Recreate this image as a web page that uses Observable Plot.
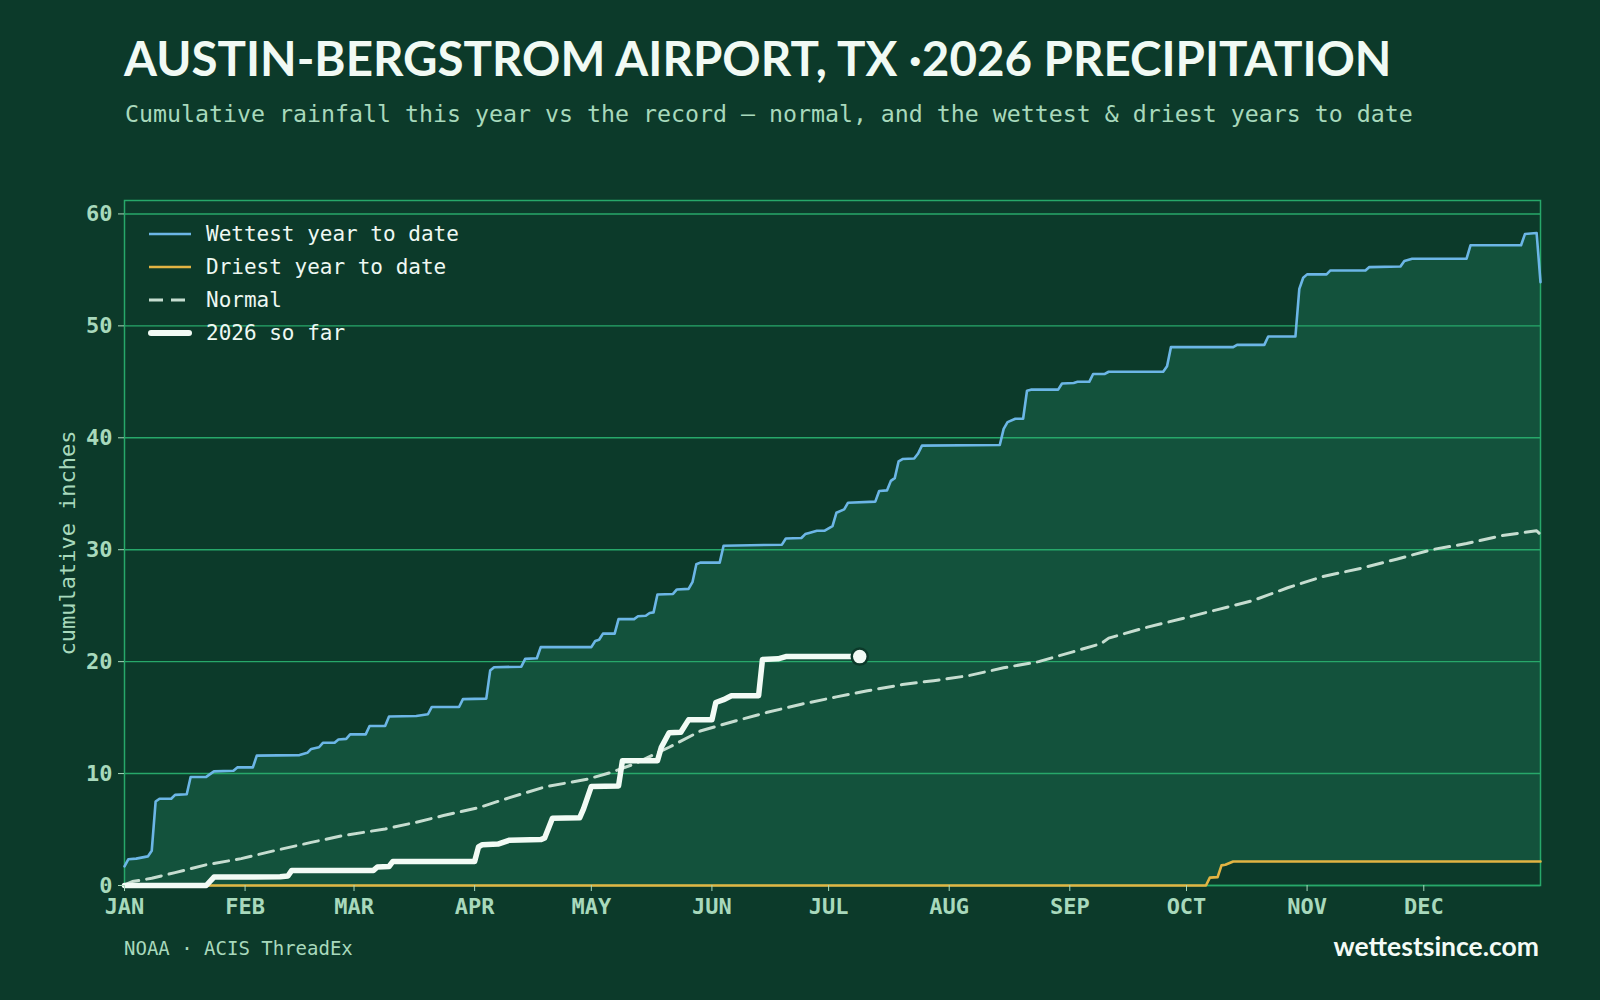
<!DOCTYPE html>
<html>
<head>
<meta charset="utf-8">
<script src="https://cdn.jsdelivr.net/npm/d3@7"></script>
<script src="https://cdn.jsdelivr.net/npm/@observablehq/plot@0.6"></script>
<style>
  html, body { margin: 0; padding: 0; background: #0c3a2a; }
  #wrap { position: relative; width: 1600px; height: 1000px; overflow: hidden; background: #0c3a2a; }
  #title { position: absolute; left: 124px; top: 34px; font: 700 47.5px Lato, "Open Sans", sans-serif; line-height: 47.5px; color: #f1faf4; white-space: nowrap; }
  #subtitle { position: absolute; left: 125px; top: 102px; font: 400 23.25px "DejaVu Sans Mono", monospace; line-height: 23.25px; color: #a8d9bc; white-space: nowrap; }
  #chart { position: absolute; left: 0; top: 0; }
  #legend { position: absolute; left: 148px; top: 217px; font: 400 21px "DejaVu Sans Mono", monospace; color: #eef8f2; }
  #legend .row { display: flex; align-items: center; height: 33px; }
  #legend svg { width: 44px; height: 14px; margin-right: 14px; }
  #source { position: absolute; left: 124px; top: 939px; font: 400 19px "DejaVu Sans Mono", monospace; line-height: 19px; color: #a8d9bc; white-space: nowrap; }
  #brand { position: absolute; right: 61px; top: 933px; font: 700 26.5px Lato, sans-serif; line-height: 26.5px; color: #f4fbf6; white-space: nowrap; }
</style>
</head>
<body>
<div id="wrap">
  <div id="title"></div>
  <div id="subtitle"></div>
  <div id="chart"></div>
  <div id="legend"></div>
  <div id="source"></div>
  <div id="brand"></div>
</div>
<script>
// ---------- text ----------
const titleText = "AUSTIN-BERGSTROM AIRPORT, TX ·2026 PRECIPITATION";
const subtitleText = "Cumulative rainfall this year vs the record — normal, and the wettest & driest years to date";
const sourceText = "NOAA · ACIS ThreadEx";
const brandText = "wettestsince.com";
const yLabel = "cumulative inches";
const monthLabels = ["JAN","FEB","MAR","APR","MAY","JUN","JUL","AUG","SEP","OCT","NOV","DEC"];
const yTicks = [0, 10, 20, 30, 40, 50, 60];
const legendLabels = ["Wettest year to date", "Driest year to date", "Normal", "2026 so far"];

// ---------- data (day of year index from Jan 1, cumulative inches) ----------
const wettestDays = [0,1,3,6,7,8,9,12,13,16,17,21,23,28,29,33,34,45,47,48,50,51,54,55,57,58,62,63,67,68,75,78,79,86,87,93,94,95,102,103,106,107,120,121,122,123,126,127,131,132,134,135,136,137,141,142,145,146,147,148,153,154,169,170,174,175,176,178,180,182,183,185,186,193,194,196,197,198,199,200,203,204,205,225,226,227,229,231,232,233,240,241,244,245,248,249,252,253,267,268,269,285,286,293,294,301,302,303,304,309,310,319,320,328,329,331,345,346,359,360,363,364];
const wettestVals = [1.7,2.35,2.4,2.6,3.1,7.5,7.75,7.75,8.1,8.15,9.7,9.7,10.2,10.25,10.55,10.55,11.6,11.65,11.85,12.2,12.35,12.75,12.75,13.05,13.1,13.5,13.5,14.25,14.25,15.1,15.15,15.3,15.95,15.95,16.65,16.7,19.2,19.5,19.55,20.25,20.3,21.3,21.3,21.85,21.95,22.5,22.5,23.8,23.8,24.05,24.1,24.35,24.4,26.0,26.05,26.45,26.5,27.1,28.7,28.85,28.85,30.35,30.45,31.0,31.05,31.4,31.5,31.7,31.7,32.1,33.3,33.6,34.2,34.3,35.25,35.3,36.15,36.4,37.9,38.1,38.15,38.6,39.3,39.35,40.8,41.4,41.7,41.7,44.2,44.3,44.3,44.85,44.9,45.0,45.0,45.7,45.7,45.9,45.9,46.4,48.1,48.1,48.3,48.3,49.05,49.05,53.3,54.3,54.6,54.6,54.95,54.95,55.25,55.3,55.8,56.0,56.0,57.2,57.2,58.2,58.3,53.9];

const driestDays = [0,278,279,281,282,283,285,364];
const driestVals = [0,0,0.7,0.75,1.8,1.85,2.15,2.15];

const normalDays = [0,2,7,13,21,30,39,48,56,67,75,82,91,99,108,119,125,131,140,148,157,165,174,183,191,200,208,217,226,235,244,251,253,262,272,281,290,299,308,318,327,336,345,354,363,364];
const normalVals = [0.05,0.35,0.65,1.15,1.85,2.4,3.15,3.85,4.45,5.05,5.65,6.25,6.95,7.85,8.8,9.5,10.1,10.85,12.35,13.8,14.7,15.45,16.2,16.85,17.4,17.95,18.3,18.75,19.45,20.0,20.9,21.6,22.1,23.0,23.85,24.65,25.45,26.6,27.6,28.35,29.15,30.0,30.55,31.25,31.7,31.35];

const ytdDays = [0,21,23,40,42,43,64,65,68,69,90,91,92,96,99,107,108,110,117,118,120,127,128,137,138,140,143,145,151,152,154,156,163,164,168,170,189];
const ytdVals = [0,0,0.75,0.78,0.85,1.35,1.35,1.65,1.7,2.15,2.15,3.45,3.65,3.7,4.05,4.1,4.25,6.0,6.05,6.85,8.85,8.9,11.15,11.15,12.35,13.65,13.7,14.8,14.8,16.35,16.6,16.95,16.95,20.2,20.25,20.45,20.45];

// ---------- styling ----------
const bg = "#0c3a2a";
const bandFill = "#13523c";
const gridColor = "#27a86a";
const tickColor = "#a8d9bc";
const wetColor = "#6cb6e6";
const dryColor = "#e2b443";
const normalColor = "#c6ddd0";
const ytdColor = "#f2fbf5";

// ---------- build tables ----------
const year0 = Date.UTC(2026, 0, 1);
const toDate = d => new Date(year0 + d * 864e5);
const series = (days, vals) => days.map((d, i) => ({date: toDate(d), v: vals[i]}));
const wet = series(wettestDays, wettestVals);
const dry = series(driestDays, driestVals);
const normal = series(normalDays, normalVals);
const ytd = series(ytdDays, ytdVals);
const monthTicks = monthLabels.map((m, i) => new Date(Date.UTC(2026, i, 1)));

document.getElementById("title").textContent = titleText;
document.getElementById("subtitle").textContent = subtitleText;
document.getElementById("source").textContent = sourceText;
document.getElementById("brand").textContent = brandText;

const chart = Plot.plot({
  width: 1600,
  height: 1000,
  marginTop: 200,
  marginBottom: 115,
  marginLeft: 124,
  marginRight: 60,
  style: {background: "transparent", fontFamily: "'DejaVu Sans Mono', monospace", overflow: "visible"},
  x: {type: "utc", domain: [toDate(0), toDate(364)]},
  y: {domain: [0, 61.2]},
  marks: [
    Plot.areaY(wet, {x: "date", y: "v", fill: bandFill, curve: "linear"}),
    Plot.areaY(dry, {x: "date", y: "v", fill: bg, curve: "linear"}),
    Plot.gridY(yTicks, {stroke: gridColor, strokeOpacity: 1, strokeWidth: 1.4}),
    Plot.frame({stroke: gridColor, strokeWidth: 1.5}),
    Plot.line(normal, {x: "date", y: "v", stroke: normalColor, strokeWidth: 3, strokeDasharray: "15,8", curve: "linear"}),
    Plot.line(wet, {x: "date", y: "v", stroke: wetColor, strokeWidth: 2.6, curve: "linear", strokeLinejoin: "round"}),
    Plot.line(dry, {x: "date", y: "v", stroke: dryColor, strokeWidth: 2.6, curve: "linear", strokeLinejoin: "round"}),
    Plot.line(ytd, {x: "date", y: "v", stroke: ytdColor, strokeWidth: 5.5, curve: "linear", strokeLinejoin: "round", strokeLinecap: "round"}),
    Plot.dot(ytd.slice(-1), {x: "date", y: "v", r: 8, fill: ytdColor, stroke: bg, strokeWidth: 2.5}),
    Plot.axisY({ticks: yTicks, tickSize: 6, tickPadding: 6, fontSize: 22, fontWeight: "bold", color: tickColor, label: null}),
    Plot.axisX({ticks: monthTicks, tickFormat: d => monthLabels[d.getUTCMonth()], tickSize: 6, tickPadding: 7, fontSize: 22, fontWeight: "bold", color: tickColor, label: null}),
    Plot.text([yLabel], {text: d => d, frameAnchor: "left", dx: -57, rotate: -90, fontSize: 22, fill: tickColor, textAnchor: "middle", lineAnchor: "middle"})
  ]
});
document.getElementById("chart").appendChild(chart);

// ---------- legend ----------
const legendStyles = [
  {stroke: wetColor, width: 2.6, dash: null},
  {stroke: dryColor, width: 2.6, dash: null},
  {stroke: normalColor, width: 3, dash: "14,8"},
  {stroke: ytdColor, width: 6, dash: null}
];
const legend = document.getElementById("legend");
legendLabels.forEach((lab, i) => {
  const s = legendStyles[i];
  const row = document.createElement("div");
  row.className = "row";
  row.innerHTML = `<svg viewBox="0 0 44 14"><line x1="${s.width > 4 ? 3 : 1}" x2="${s.width > 4 ? 41 : 43}" y1="7" y2="7" stroke="${s.stroke}" stroke-width="${s.width}" ${s.dash ? `stroke-dasharray="${s.dash}"` : ""} stroke-linecap="${s.width > 4 ? "round" : "butt"}"/></svg><span>${lab}</span>`;
  legend.appendChild(row);
});
</script>
</body>
</html>
